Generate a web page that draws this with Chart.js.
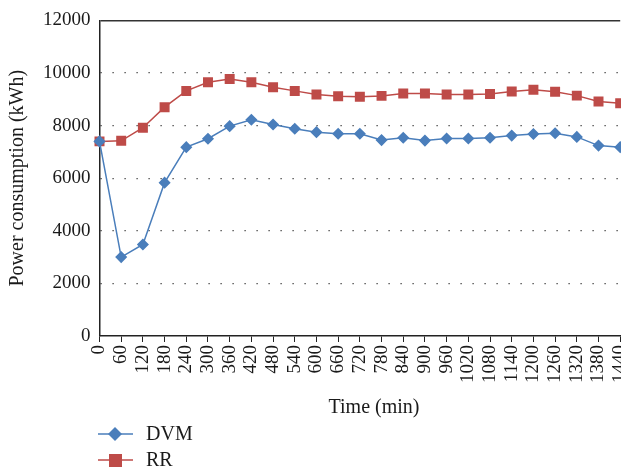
<!DOCTYPE html>
<html>
<head>
<meta charset="utf-8">
<script src="https://cdn.jsdelivr.net/npm/chart.js@4/dist/chart.umd.min.js"></script>
<style>
  html, body { margin: 0; padding: 0; background: #fff; overflow: hidden; }
  #wrap { width: 646px; height: 470px; }
</style>
</head>
<body>
<div id="wrap"><canvas id="myChart"></canvas></div>
<script>
let timeLabels = ["0", "60", "120", "180", "240", "300", "360", "420", "480", "540", "600", "660", "720",
  "780", "840", "900", "960", "1020", "1080", "1140", "1200", "1260", "1320", "1380", "1440"];
let dvmValues = [7400, 3000, 3480, 5830, 7180, 7500, 7980, 8220, 8040, 7880, 7750, 7690, 7690,
  7450, 7540, 7430, 7510, 7510, 7540, 7620, 7680, 7710, 7570, 7240, 7180];
let rrValues = [7400, 7420, 7920, 8700, 9320, 9650, 9770, 9650, 9460, 9320, 9180, 9120, 9100,
  9130, 9220, 9220, 9180, 9180, 9200, 9300, 9360, 9290, 9140, 8920, 8850];
let yTicks = [0, 2000, 4000, 6000, 8000, 10000, 12000];

const serif = "'Liberation Serif', 'DejaVu Serif', serif";
const blue = "#4a7ebb";
const red = "#be4b48";

// x title and legend sit under the axis, drawn here
const bottomPlugin = {
  id: "bottomPlugin",
  afterDraw(chart) {
    const ctx = chart.ctx;
    ctx.save();
    ctx.fillStyle = "#1a1a1a";
    ctx.font = "20px " + serif;
    ctx.textAlign = "center";
    ctx.textBaseline = "middle";
    ctx.fillText("Time (min)", 374, 408);

    let y = 434;
    chart.data.datasets.forEach((ds) => {
      ctx.strokeStyle = ds.borderColor;
      ctx.lineWidth = 1.5;
      ctx.beginPath();
      ctx.moveTo(98, y);
      ctx.lineTo(133, y);
      ctx.stroke();
      ctx.fillStyle = ds.pointBackgroundColor;
      if (ds.pointStyle === "rect") {
        ctx.fillRect(109, y - 6, 13, 13);
      } else {
        ctx.beginPath();
        ctx.moveTo(115, y - 7);
        ctx.lineTo(122, y);
        ctx.lineTo(115, y + 7);
        ctx.lineTo(108, y);
        ctx.closePath();
        ctx.fill();
      }
      ctx.fillStyle = "#1a1a1a";
      ctx.textAlign = "left";
      ctx.font = "20px " + serif;
      ctx.fillText(ds.label, 146, y + 1);
      y += 26;
    });
    ctx.restore();
  }
};

function renderChart() {
  const ctx = document.getElementById("myChart");
  new Chart(ctx, {
    type: "line",
    data: {
      labels: timeLabels,
      datasets: [
        {
          label: "DVM",
          data: dvmValues,
          borderColor: blue,
          backgroundColor: blue,
          pointBackgroundColor: blue,
          pointBorderColor: blue,
          pointStyle: "rectRot",
          pointRadius: 5,
          borderWidth: 1.5,
          tension: 0,
        },
        {
          label: "RR",
          data: rrValues,
          borderColor: red,
          backgroundColor: red,
          pointBackgroundColor: red,
          pointBorderColor: red,
          pointStyle: "rect",
          pointRadius: 6,
          borderWidth: 1.5,
          tension: 0,
        },
      ],
    },
    options: {
      responsive: true,
      maintainAspectRatio: false,
      animation: false,
      layout: { padding: { top: -3, left: 6, right: 0, bottom: 84 } },
      plugins: {
        legend: { display: false },
        tooltip: { enabled: false },
      },
      scales: {
        x: {
          type: "category",
          offset: false,
          grid: {
            drawOnChartArea: false,
            drawTicks: true,
            tickLength: 6,
            color: "#222",
          },
          border: { color: "#222", width: 1.5 },
          ticks: {
            color: "#1a1a1a",
            font: { family: serif, size: 19 },
            minRotation: 90,
            maxRotation: 90,
            autoSkip: false,
            padding: 3,
          },
        },
        y: {
          min: 0,
          max: 12000,
          afterBuildTicks: (scale) => {
            scale.ticks = yTicks.map((v) => ({ value: v }));
          },
          grid: {
            color: (c) => (c.tick && c.tick.value === 0 ? "rgba(0,0,0,0)" : "#333"),
            lineWidth: (c) => (c.tick && c.tick.value === 12000 ? 1.5 : 1.2),
            drawTicks: false,
          },
          border: {
            color: "#222",
            width: 1.5,
            dash: (c) => (c.tick && c.tick.value !== 12000 ? [1.2, 10.8] : []),
          },
          ticks: {
            color: "#1a1a1a",
            font: { family: serif, size: 19 },
            padding: 9,
            callback: (v) => String(v),
          },
          title: {
            display: true,
            text: "Power consumption (kWh)",
            color: "#1a1a1a",
            font: { family: serif, size: 20 },
            padding: { top: 0, bottom: 4 },
          },
        },
      },
    },
    plugins: [bottomPlugin],
  });
}

renderChart();
</script>
</body>
</html>
